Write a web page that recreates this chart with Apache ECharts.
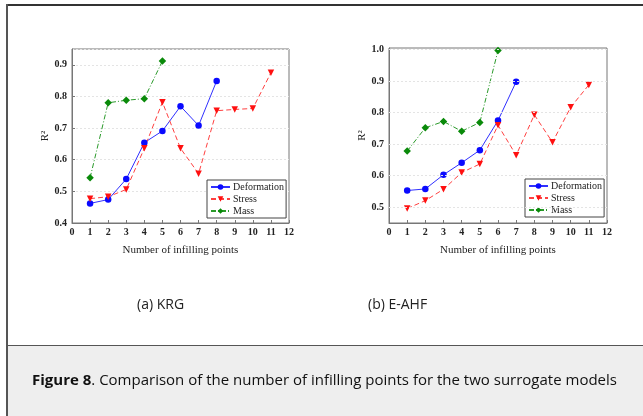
<!DOCTYPE html>
<html>
<head>
<meta charset="utf-8">
<script src="https://cdn.jsdelivr.net/npm/echarts@6/dist/echarts.min.js"></script>
<style>
  html, body { margin: 0; padding: 0; background: #fff; }
  #chart { width: 643px; height: 416px; }
</style>
</head>
<body>
<div id="chart"></div>
<script>
  // x = number of infilling points
  const points = [1, 2, 3, 4, 5, 6, 7, 8, 9, 10, 11]

  // (a) KRG
  const krgDeformation = [0.462, 0.474, 0.539, 0.654, 0.691, 0.769, 0.708, 0.849]
  const krgStress = [0.477, 0.483, 0.506, 0.636, 0.782, 0.636, 0.556, 0.755, 0.759, 0.762, 0.875]
  const krgMass = [0.543, 0.780, 0.788, 0.793, 0.912]

  // (b) E-AHF
  const ahfDeformation = [0.553, 0.558, 0.603, 0.641, 0.681, 0.775, 0.898]
  const ahfStress = [0.496, 0.521, 0.557, 0.610, 0.637, 0.760, 0.665, 0.793, 0.706, 0.817, 0.888]
  const ahfMass = [0.678, 0.752, 0.772, 0.741, 0.769, 0.997]

  const ahfGridValues = [0.5, 0.6, 0.7, 0.8, 0.9, 1.0]

  const pair = (vals) => vals.map((v, i) => [points[i], v])

  const serif = 'Liberation Serif'
  const frameColor = '#777'

  function xAxisCfg (grid) {
    return {
      type: 'value', gridIndex: grid, min: 0, max: 12, interval: 1,
      name: 'Number of infilling points', nameLocation: 'middle', nameGap: 22,
      nameTextStyle: { fontFamily: serif, fontSize: 11, color: '#222' },
      axisLine: { lineStyle: { color: frameColor } },
      axisTick: { inside: true, length: 3, lineStyle: { color: frameColor } },
      axisLabel: { fontFamily: serif, fontWeight: 'bold', fontSize: 10, color: '#222', margin: 4 },
      splitLine: { show: false }
    }
  }

  function yName () {
    return {
      name: 'R\u00b2', nameLocation: 'middle', nameGap: 17, nameRotate: 90,
      nameTextStyle: { fontFamily: serif, fontSize: 11, color: '#222' }
    }
  }

  function seriesSet (grid, def, str, mass) {
    return [
      {
        name: 'Deformation', type: 'line', xAxisIndex: grid, yAxisIndex: grid,
        data: pair(def), symbol: 'circle', symbolSize: 6.5,
        itemStyle: { color: '#0a0aff' }, lineStyle: { color: '#3030ff', width: 1 }
      },
      {
        name: 'Stress', type: 'line', xAxisIndex: grid, yAxisIndex: grid,
        data: pair(str), symbol: 'triangle', symbolRotate: 180, symbolSize: 6.5,
        itemStyle: { color: '#ff1010' }, lineStyle: { color: '#ff4040', width: 1, type: [5, 3] }
      },
      {
        name: 'Mass', type: 'line', xAxisIndex: grid, yAxisIndex: grid,
        data: pair(mass), symbol: 'diamond', symbolSize: 7.5,
        itemStyle: { color: '#0a8a0a' }, lineStyle: { color: '#2a9a2a', width: 1, type: [5, 2, 1, 2] }
      }
    ]
  }

  function legendCfg (left, top) {
    return {
      orient: 'vertical', left: left, top: top,
      data: ['Deformation', 'Stress', 'Mass'],
      itemWidth: 19, itemHeight: 7, itemGap: 2,
      padding: [2, 2, 2, 3],
      borderColor: '#444', borderWidth: 1,
      backgroundColor: '#fff',
      textStyle: { fontFamily: serif, fontSize: 10, color: '#222', padding: [0, 0, 0, -2] },
      selectedMode: false
    }
  }

  const chart = echarts.init(document.getElementById('chart'))
  const ahfSeries = seriesSet(1, ahfDeformation, ahfStress, ahfMass)
  ahfSeries[0].markLine = {
    silent: true, symbol: 'none', label: { show: false },
    lineStyle: { color: '#e4e4e4', type: [2, 2], width: 1 },
    data: ahfGridValues.map(v => ({ yAxis: v }))
  }

  chart.setOption({
    animation: false,
    backgroundColor: '#fff',
    grid: [
      { left: 72, top: 49, width: 217, height: 174, show: true, borderColor: frameColor, borderWidth: 1 },
      { left: 389, top: 48, width: 218, height: 175, show: true, borderColor: frameColor, borderWidth: 1 }
    ],
    legend: [legendCfg(207, 180), legendCfg(525, 179)],
    xAxis: [xAxisCfg(0), xAxisCfg(1)],
    yAxis: [
      Object.assign({
        type: 'value', gridIndex: 0, min: 0.4, max: 0.95, interval: 0.1,
        axisLine: { lineStyle: { color: frameColor } },
        axisTick: { inside: true, length: 3, lineStyle: { color: frameColor } },
        axisLabel: { fontFamily: serif, fontWeight: 'bold', fontSize: 10, color: '#222', margin: 5,
          showMaxLabel: false, formatter: v => v.toFixed(1) },
        splitLine: { show: true, lineStyle: { color: '#e4e4e4', type: [2, 2] } }
      }, yName()),
      Object.assign({
        type: 'value', gridIndex: 1, min: 0.45, max: 1.005, interval: 0.05,
        axisLine: { lineStyle: { color: frameColor } },
        axisTick: { show: false },
        axisLabel: { fontFamily: serif, fontWeight: 'bold', fontSize: 10, color: '#222', margin: 5,
          showMaxLabel: false,
          formatter: v => (Math.round(v * 100) % 10 === 0 ? v.toFixed(1) : '') },
        splitLine: { show: false }
      }, yName())
    ],
    series: seriesSet(0, krgDeformation, krgStress, krgMass).concat(ahfSeries),
    graphic: [
      { type: 'rect', shape: { x: 8, y: 346, width: 640, height: 75 }, style: { fill: '#eeeeee' }, silent: true },
      { type: 'line', shape: { x1: 7, y1: 345.5, x2: 643, y2: 345.5 }, style: { stroke: '#555', lineWidth: 1 } },
      { type: 'line', shape: { x1: 6, y1: 5, x2: 643, y2: 5 }, style: { stroke: '#333', lineWidth: 2 } },
      { type: 'line', shape: { x1: 7, y1: 4, x2: 7, y2: 416 }, style: { stroke: '#555', lineWidth: 2 } },
      {
        type: 'text', left: 137, top: 298,
        style: { text: '(a) KRG', font: '14px "Open Sans"', fill: '#222' }
      },
      {
        type: 'text', left: 368, top: 298,
        style: { text: '(b) E-AHF', font: '14px "Open Sans"', fill: '#222' }
      },
      {
        type: 'text', left: 32, top: 373,
        style: {
          text: '{b|Figure 8}. Comparison of the number of infilling points for the two surrogate models',
          font: '15px "Open Sans"', fill: '#111',
          rich: { b: { fontFamily: 'Open Sans', fontSize: 15, fontWeight: 'bold', fill: '#111' } }
        }
      }
    ]
  })
</script>
</body>
</html>
